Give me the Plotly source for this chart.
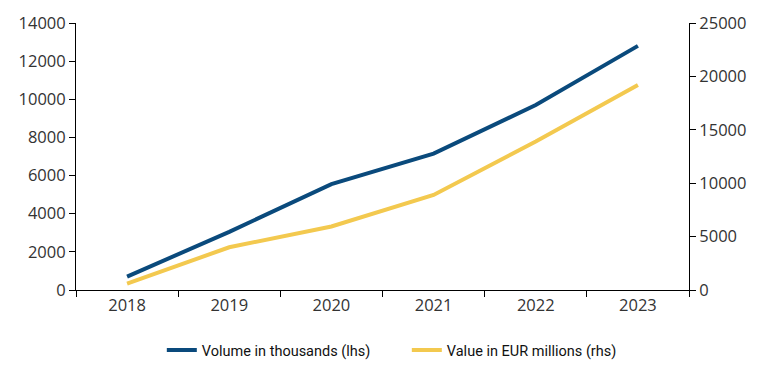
import plotly.graph_objects as go

years = ["2018", "2019", "2020", "2021", "2022", "2023"]
volume_thousands = [700, 3050, 5550, 7150, 9700, 12800]
value_eur_millions = [600, 4000, 5950, 8900, 13900, 19200]

BLUE = "#0a4a7c"
YELLOW = "#f3c94f"
TICK_FONT = dict(family="Open Sans, sans-serif", size=16.5, color="#333333")

fig = go.Figure()
fig.add_trace(go.Scatter(
    x=years, y=volume_thousands, mode="lines", name="Volume in thousands (lhs)",
    line=dict(color=BLUE, width=4), yaxis="y"))
fig.add_trace(go.Scatter(
    x=years, y=value_eur_millions, mode="lines", name="Value in EUR millions (rhs)",
    line=dict(color=YELLOW, width=4), yaxis="y2"))

fig.update_layout(
    width=775, height=377,
    margin=dict(l=68, r=94, t=15, b=95),
    paper_bgcolor="white", plot_bgcolor="white",
    showlegend=True,
    legend=dict(orientation="h", x=0.140, xanchor="left", y=-0.225, yanchor="middle",
                font=dict(family="Roboto, sans-serif", size=14.5, color="#111111"),
                itemwidth=30, entrywidth=200, entrywidthmode="pixels", tracegroupgap=0),
    xaxis=dict(type="category", range=[-0.5, 5.5], tickson="boundaries",
               ticks="outside", ticklen=6, tickcolor="black", automargin=False,
               showline=True, linecolor="black", linewidth=1,
               showgrid=False, tickfont=TICK_FONT),
    yaxis=dict(range=[0, 14000], dtick=2000, ticks="outside", ticklen=6, tickcolor="black",
               showline=True, linecolor="black", linewidth=1, showgrid=False, automargin=False,
               zeroline=False, tickfont=TICK_FONT, tickformat="d"),
    yaxis2=dict(range=[0, 25000], dtick=5000, overlaying="y", side="right",
                ticks="outside", ticklen=6, tickcolor="black", automargin=False,
                showline=True, linecolor="black", linewidth=1, showgrid=False,
                zeroline=False, tickfont=TICK_FONT, tickformat="d"),
)

fig.write_html("out.html")
